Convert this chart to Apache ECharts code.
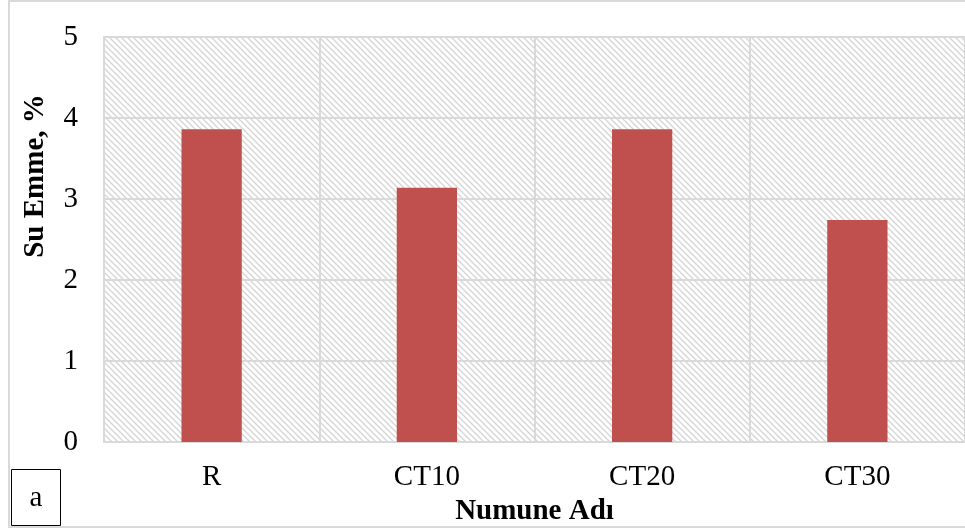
<!DOCTYPE html>
<html>
<head>
<meta charset="utf-8">
<script src="https://cdn.jsdelivr.net/npm/echarts@6/dist/echarts.min.js"></script>
<style>
  html, body { margin: 0; padding: 0; background: #fff; }
  #chart { width: 965px; height: 531px; }
</style>
</head>
<body>
<div id="chart"></div>
<script>
const categories = ['R', 'CT10', 'CT20', 'CT30']
const waterAbsorption = [3.86, 3.14, 3.86, 2.74]
const yTicks = [0, 1, 2, 3, 4, 5]

// diagonal hatch tile for the plot background
const makeHatch = () => {
  const c = document.createElement('canvas')
  c.width = 6
  c.height = 6
  const ctx = c.getContext('2d')
  ctx.fillStyle = '#ffffff'
  ctx.fillRect(0, 0, 6, 6)
  ctx.strokeStyle = '#d4d4d4'
  ctx.lineWidth = 1.3
  ctx.beginPath()
  ctx.moveTo(-1, -1); ctx.lineTo(7, 7)
  ctx.moveTo(-4, 2); ctx.lineTo(2, 8)
  ctx.moveTo(2, -4); ctx.lineTo(8, 2)
  ctx.stroke()
  return c
}

const font = '"Liberation Serif", "Times New Roman", serif'
const chart = echarts.init(document.getElementById('chart'))

chart.setOption({
  animation: false,
  backgroundColor: '#fff',
  textStyle: { fontFamily: font, color: '#000' },
  grid: {
    left: 104,
    right: 0,
    top: 37,
    bottom: 89,
    show: true,
    borderWidth: 0,
    backgroundColor: { image: makeHatch(), repeat: 'repeat' }
  },
  xAxis: {
    type: 'category',
    data: categories,
    axisLine: { show: true, lineStyle: { color: '#d9d9d9', width: 2 } },
    axisTick: { show: false },
    axisLabel: { color: '#000', fontSize: 29, fontFamily: font, margin: 21 },
    splitLine: { show: true, lineStyle: { color: '#d9d9d9', width: 2 } },
    name: 'Numune Adı',
    nameLocation: 'middle',
    nameGap: 49,
    nameTextStyle: { color: '#000', fontSize: 29, fontWeight: 'bold', fontFamily: font }
  },
  yAxis: {
    type: 'value',
    min: yTicks[0],
    max: yTicks[yTicks.length - 1],
    interval: 1,
    axisLine: { show: true, lineStyle: { color: '#d9d9d9', width: 2 } },
    axisTick: { show: false },
    axisLabel: { color: '#000', fontSize: 29, fontFamily: font, margin: 26 },
    splitLine: { show: true, lineStyle: { color: '#d9d9d9', width: 2 } }
  },
  series: [{
    type: 'bar',
    data: waterAbsorption,
    barWidth: '28%',
    itemStyle: { color: '#c0504d' }
  }],
  graphic: [
    {
      type: 'rect',
      shape: { x: 9, y: 1, width: 960, height: 526 },
      style: { fill: 'none', stroke: '#d9d9d9', lineWidth: 2 },
      z: 100
    },
    {
      type: 'text',
      x: 36,
      y: 176,
      rotation: Math.PI / 2,
      style: { text: 'Su Emme, %', font: 'bold 29px ' + font, fill: '#000', align: 'center', verticalAlign: 'middle' },
      z: 100
    },
    {
      type: 'rect',
      shape: { x: 11.5, y: 469.5, width: 49, height: 56 },
      style: { fill: '#fff', stroke: '#000', lineWidth: 1 },
      z: 101
    },
    {
      type: 'text',
      x: 36,
      y: 498,
      style: { text: 'a', font: '29px ' + font, fill: '#000', align: 'center', verticalAlign: 'middle' },
      z: 102
    }
  ]
})
</script>
</body>
</html>
